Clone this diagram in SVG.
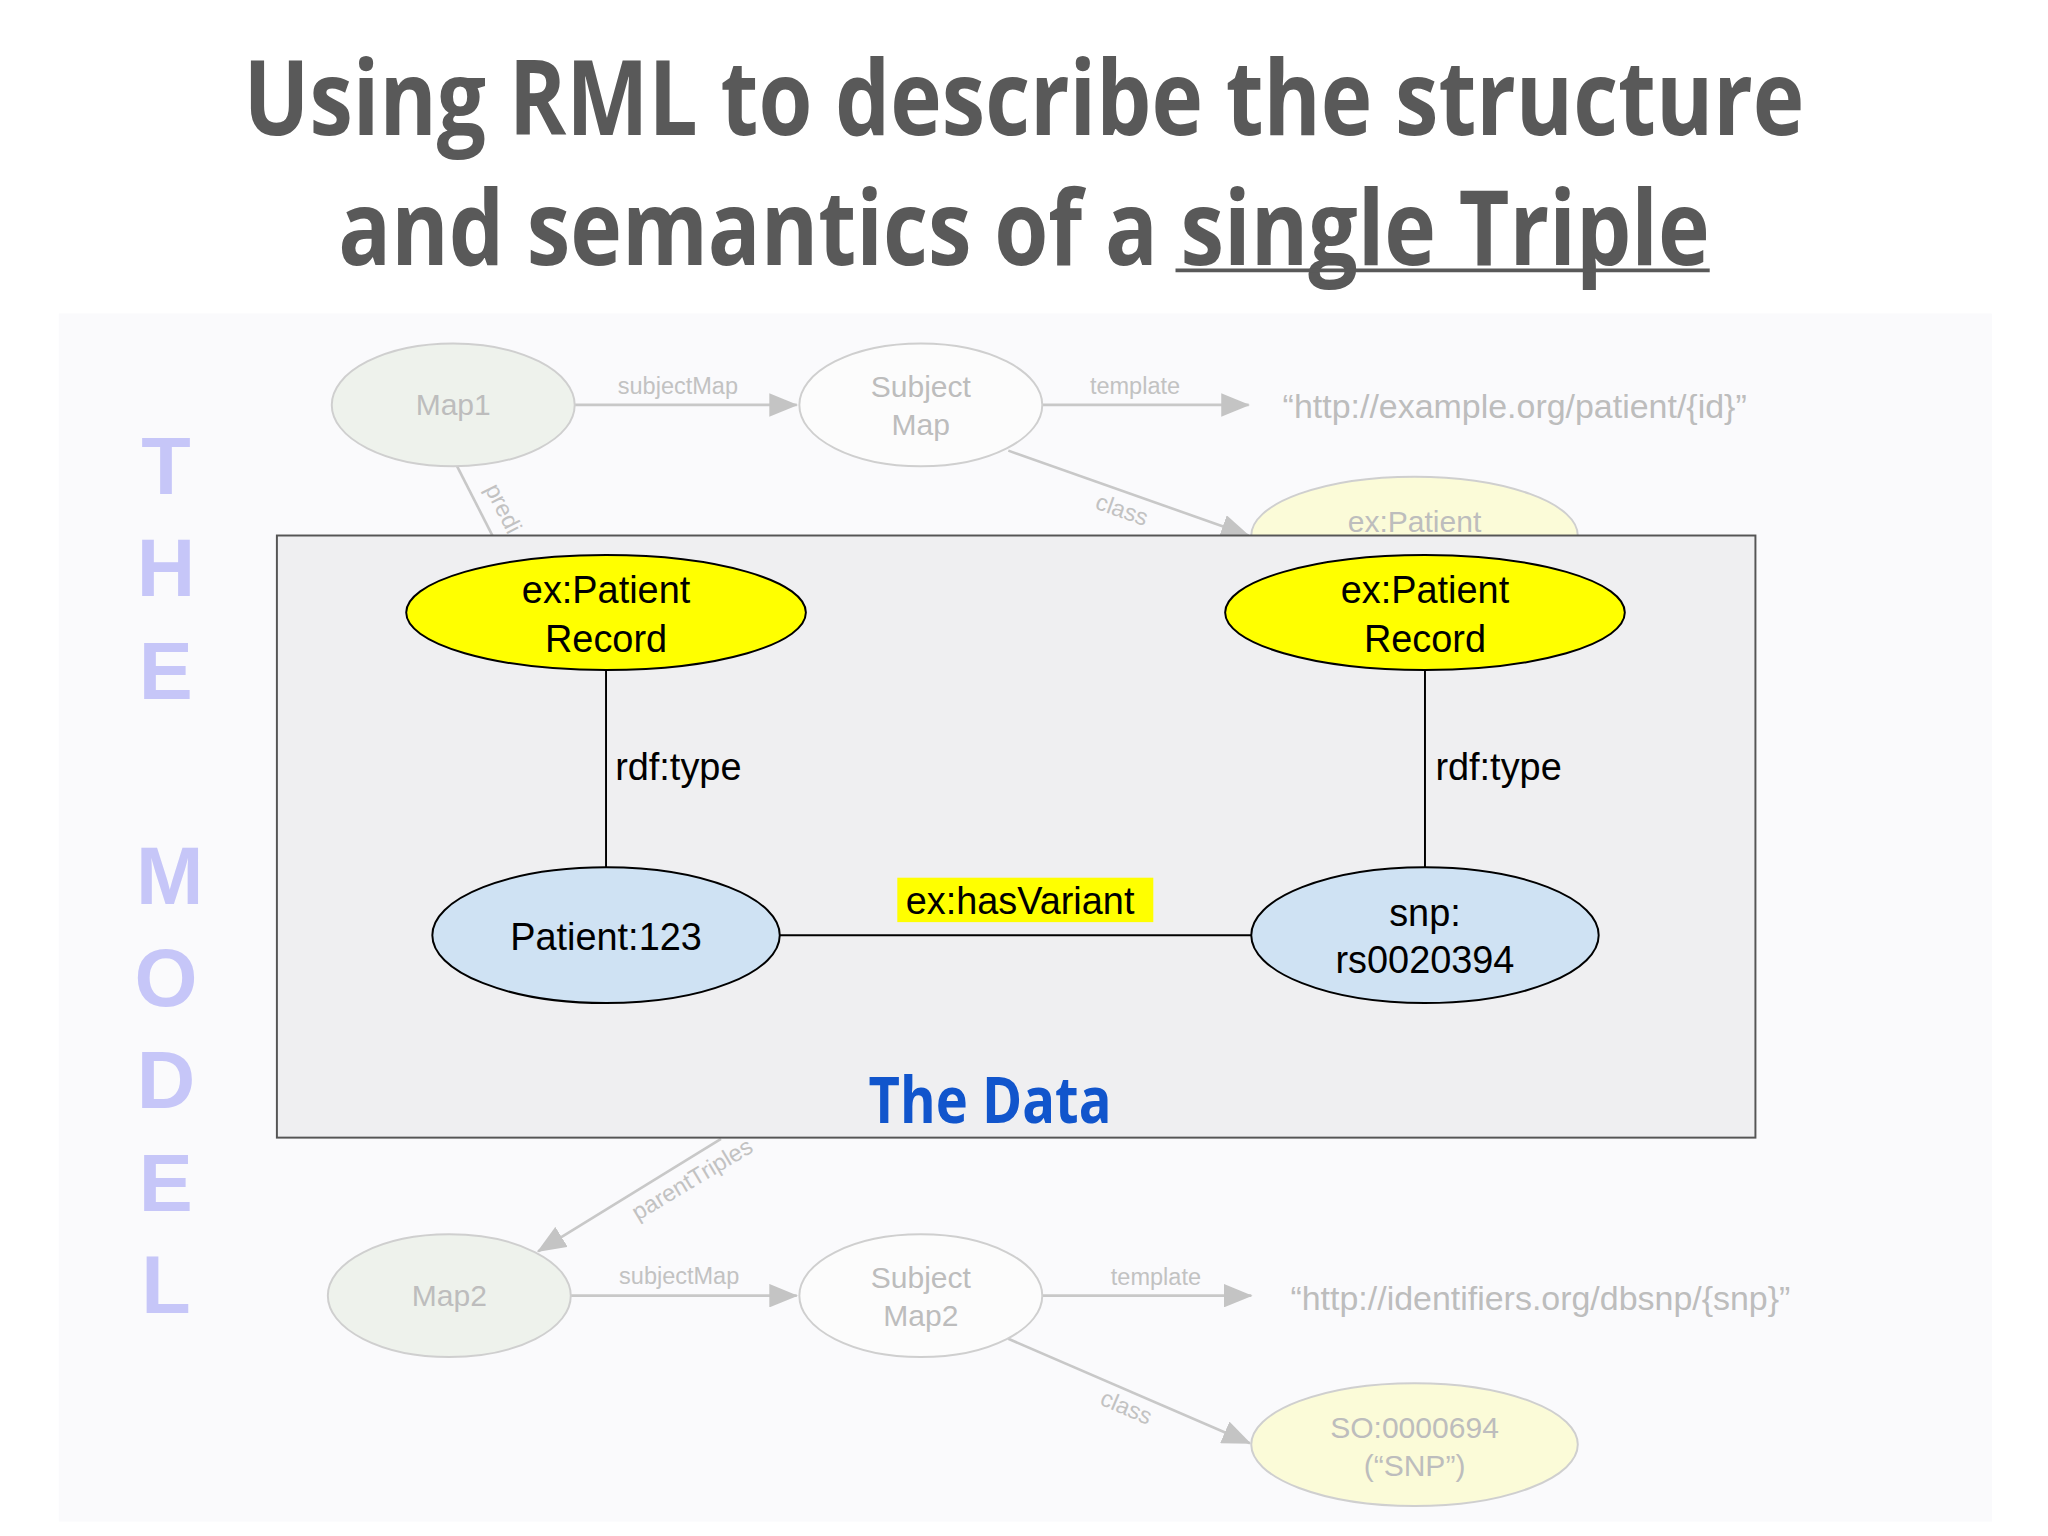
<svg xmlns="http://www.w3.org/2000/svg" width="2048" height="1536" viewBox="0 0 2048 1536">
<defs>
<marker id="ah" markerWidth="22" markerHeight="18" refX="21" refY="9" orient="auto" markerUnits="userSpaceOnUse"><path d="M0,0 L22,9 L0,18 Z" fill="#c4c4c4"/></marker>
<style>
.t{font-family:"Open Sans","Liberation Sans",sans-serif;font-weight:bold;fill:#595959;font-size:80px;text-anchor:middle}
.f{font-family:"Liberation Sans",Arial,sans-serif;fill:#bdbdbd;font-size:23px;text-anchor:middle}
.fl{font-family:"Liberation Sans",Arial,sans-serif;fill:#c2c2c2;font-size:18px;text-anchor:middle}
.fe{stroke:#cfcfcf;stroke-width:1.5}
.fc{stroke:#c8c8c8;stroke-width:2;fill:none}
.d{font-family:"Liberation Sans",Arial,sans-serif;fill:#000;font-size:29px;text-anchor:middle}
.m{font-family:"Liberation Sans",Arial,sans-serif;font-weight:bold;fill:#c6c6f8;font-size:62px;text-anchor:middle}
</style>
</defs>
<rect width="2048" height="1536" fill="#fff"/>
<g transform="scale(1.30612)">
<g id="title">
<text class="t" x="784" y="103" textLength="1195" lengthAdjust="spacingAndGlyphs">Using RML to describe the structure</text>
<text class="t" x="784" y="203" textLength="1050" lengthAdjust="spacingAndGlyphs">and semantics of a single Triple</text>
<line x1="900" y1="207" x2="1309" y2="207" stroke="#595959" stroke-width="3"/>
</g>
<rect x="45" y="240" width="1480" height="925" fill="#fafafc"/>
<g id="model-label">
<text class="m" x="127" y="378">T</text><text class="m" x="127" y="456">H</text><text class="m" x="127" y="535">E</text>
<text class="m" x="130" y="692">M</text><text class="m" x="127" y="770">O</text><text class="m" x="127" y="848">D</text><text class="m" x="127" y="927">E</text><text class="m" x="127" y="1005">L</text>
</g>
<g id="connectors-model">
<line class="fc" x1="440" y1="310" x2="610" y2="310" marker-end="url(#ah)"/>
<text class="fl" x="519" y="302">subjectMap</text>
<line class="fc" x1="798" y1="310" x2="956" y2="310" marker-end="url(#ah)"/>
<text class="fl" x="869" y="302">template</text>
<line class="fc" x1="772" y1="345" x2="956" y2="410" marker-end="url(#ah)"/>
<text class="fl" transform="translate(857,396) rotate(19.5)">class</text>
<line class="fc" x1="350" y1="357" x2="378" y2="412"/>
<text class="fl" transform="translate(380,392) rotate(63)">predi</text>
<line class="fc" x1="552" y1="872" x2="412" y2="958" marker-end="url(#ah)"/>
<text class="fl" transform="translate(533,908) rotate(-31)">parentTriples</text>
<line class="fc" x1="437" y1="992" x2="610" y2="992" marker-end="url(#ah)"/>
<text class="fl" x="520" y="983">subjectMap</text>
<line class="fc" x1="798" y1="992" x2="958" y2="992" marker-end="url(#ah)"/>
<text class="fl" x="885" y="984">template</text>
<line class="fc" x1="772" y1="1025" x2="957" y2="1105" marker-end="url(#ah)"/>
<text class="fl" transform="translate(860,1083) rotate(23)">class</text>
</g>
<g id="map1"><ellipse class="fe" cx="347" cy="310" rx="93" ry="47" fill="#eef2ec"/><text class="f" x="347" y="318">Map1</text></g>
<g id="subjectmap"><ellipse class="fe" cx="705" cy="310" rx="93" ry="47" fill="#fcfcfc"/><text class="f" x="705" y="304">Subject</text><text class="f" x="705" y="333">Map</text></g>
<text class="f" x="982" y="320" style="text-anchor:start;font-size:26px">“http://example.org/patient/{id}”</text>
<g id="expatient-faded"><ellipse class="fe" cx="1083" cy="410" rx="125" ry="45" fill="#fbfbd8"/><text class="f" x="1083" y="407">ex:Patient</text></g>
<g id="map2"><ellipse class="fe" cx="344" cy="992" rx="93" ry="47" fill="#eef2ec"/><text class="f" x="344" y="1000">Map2</text></g>
<g id="subjectmap2"><ellipse class="fe" cx="705" cy="992" rx="93" ry="47" fill="#fcfcfc"/><text class="f" x="705" y="986">Subject</text><text class="f" x="705" y="1015">Map2</text></g>
<text class="f" x="988" y="1003" style="text-anchor:start;font-size:26px">“http://identifiers.org/dbsnp/{snp}”</text>
<g id="so"><ellipse class="fe" cx="1083" cy="1106" rx="125" ry="47" fill="#fbfbd8"/><text class="f" x="1083" y="1101">SO:0000694</text><text class="f" x="1083" y="1130">(“SNP”)</text></g>
<g id="data-box"><rect x="212" y="410" width="1132" height="461" fill="#efeff1" stroke="#555" stroke-width="1.5"/></g>
<g id="connectors">
<line x1="464" y1="513" x2="464" y2="664" stroke="#000" stroke-width="1.5"/>
<line x1="1091" y1="513" x2="1091" y2="664" stroke="#000" stroke-width="1.5"/>
<line x1="597" y1="716" x2="958" y2="716" stroke="#000" stroke-width="1.5"/>
<text class="d" x="471" y="597" style="text-anchor:start">rdf:type</text>
<text class="d" x="1099" y="597" style="text-anchor:start">rdf:type</text>
<rect x="687" y="672" width="196" height="34" fill="#ffff00"/>
<text class="d" x="781" y="700">ex:hasVariant</text>
</g>
<g id="type1"><ellipse cx="464" cy="469" rx="153" ry="44" fill="#ffff00" stroke="#000" stroke-width="1.5"/><text class="d" x="464" y="462">ex:Patient</text><text class="d" x="464" y="499">Record</text></g>
<g id="type2"><ellipse cx="1091" cy="469" rx="153" ry="44" fill="#ffff00" stroke="#000" stroke-width="1.5"/><text class="d" x="1091" y="462">ex:Patient</text><text class="d" x="1091" y="499">Record</text></g>
<g id="patient"><ellipse cx="464" cy="716" rx="133" ry="52" fill="#cfe2f3" stroke="#000" stroke-width="1.5"/><text class="d" x="464" y="727">Patient:123</text></g>
<g id="snp"><ellipse cx="1091" cy="716" rx="133" ry="52" fill="#cfe2f3" stroke="#000" stroke-width="1.5"/><text class="d" x="1091" y="709">snp:</text><text class="d" x="1091" y="745">rs0020394</text></g>
<text x="758" y="860" textLength="186" lengthAdjust="spacingAndGlyphs" style="font-family:'Open Sans','Liberation Sans',sans-serif;font-weight:bold;font-size:50px;fill:#1155cc;text-anchor:middle">The Data</text>
</g>
</svg>
